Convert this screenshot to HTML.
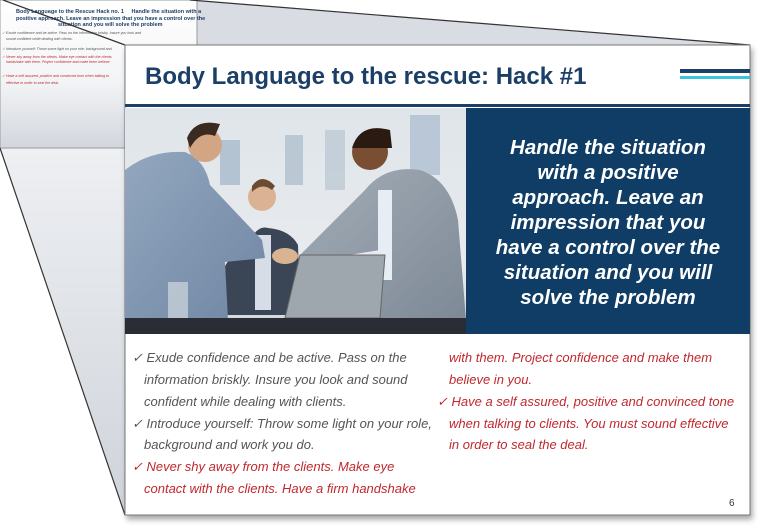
<!DOCTYPE html>
<html><head><meta charset="utf-8"><style>
html,body{margin:0;padding:0;background:#fff;}
svg{display:block;font-family:"Liberation Sans",Arial,sans-serif;}
</style></head><body>
<svg width="763" height="527" viewBox="0 0 763 527">
<defs>
<linearGradient id="gshade" x1="0" y1="0" x2="0" y2="1">
<stop offset="0" stop-color="#eef0f3"/><stop offset="1" stop-color="#cfd3da"/></linearGradient>
<linearGradient id="gthumb" x1="0" y1="0" x2="0" y2="1">
<stop offset="0" stop-color="#ffffff"/><stop offset="0.55" stop-color="#f3f4f6"/><stop offset="1" stop-color="#d2d6dd"/></linearGradient>
<linearGradient id="gphoto" x1="0" y1="0" x2="0" y2="1">
<stop offset="0" stop-color="#dfe5ea"/><stop offset="0.7" stop-color="#e8ebee"/><stop offset="1" stop-color="#cfd5db"/></linearGradient>
<linearGradient id="gsuit" x1="0" y1="0" x2="1" y2="1">
<stop offset="0" stop-color="#93a7bf"/><stop offset="1" stop-color="#6f86a3"/></linearGradient>
<linearGradient id="gsuit2" x1="0" y1="0" x2="1" y2="1">
<stop offset="0" stop-color="#a3adb8"/><stop offset="1" stop-color="#7d8995"/></linearGradient>
<filter id="sh" x="-5%" y="-5%" width="110%" height="115%"><feDropShadow dx="2" dy="4" stdDeviation="3" flood-color="#000" flood-opacity="0.35"/></filter>
</defs>
<!-- shaded connector region -->
<polygon points="0,148 125,515 125,148" fill="url(#gshade)"/>
<polygon points="197,0 750,45 197,45" fill="#d9dce2"/>
<!-- thumbnail slide -->
<g>
<rect x="0" y="0" width="197" height="148" fill="url(#gthumb)" stroke="#999" stroke-width="1"/>
<text x="16" y="13" font-size="5.5" font-weight="bold" fill="#1f3f66">Body Language to the Rescue Hack no. 1 &#160;&#160;&#160; Handle the situation with a</text>
<text x="16" y="20" font-size="5.5" font-weight="bold" fill="#1f3f66">positive approach. Leave an impression that you have a control over the</text>
<text x="58" y="26" font-size="5.5" font-weight="bold" fill="#1f3f66">situation and you will solve the problem</text>
<text x="2" y="34" font-size="3.6" font-style="italic" fill="#555">✓ Exude confidence and be active. Pass on the information briskly. Insure you look and</text>
<text x="6" y="40" font-size="3.6" font-style="italic" fill="#555">sound confident while dealing with clients.</text>
<text x="2" y="50" font-size="3.6" font-style="italic" fill="#555">✓ Introduce yourself: Throw some light on your role, background and</text>
<text x="2" y="58" font-size="3.6" font-style="italic" fill="#c0282d">✓ Never shy away from the clients. Make eye contact with the clients</text>
<text x="6" y="63" font-size="3.6" font-style="italic" fill="#c0282d">handshake with them. Project confidence and make them believe</text>
<text x="2" y="77" font-size="3.6" font-style="italic" fill="#c0282d">✓ Have a self assured, positive and convinced tone when talking to</text>
<text x="6" y="84" font-size="3.6" font-style="italic" fill="#c0282d">effective in order to seal the deal.</text>
</g>
<!-- connector lines -->
<line x1="3" y1="0" x2="125" y2="45" stroke="#333" stroke-width="1.2"/>
<line x1="0" y1="148" x2="125" y2="515" stroke="#333" stroke-width="1.2"/>
<line x1="190" y1="0" x2="750" y2="45" stroke="#333" stroke-width="1.2"/>
<!-- main slide -->
<g>
<rect x="125" y="45" width="625" height="470" fill="#fff" stroke="#777" stroke-width="1" filter="url(#sh)"/>
<text x="145" y="84" font-size="24" font-weight="bold" fill="#1b3f66">Body Language to the rescue: Hack #1</text>
<rect x="680" y="69" width="70" height="4" fill="#1b3f66"/>
<rect x="680" y="76" width="70" height="3" fill="#3ec3dc"/>
<rect x="125" y="104" width="625" height="3" fill="#1b3f66"/>
<g>
<rect x="125" y="108" width="341" height="226" fill="url(#gphoto)"/>
<rect x="220" y="140" width="20" height="45" fill="#9fb3c8" opacity="0.7"/>
<rect x="285" y="135" width="18" height="50" fill="#a9bacb" opacity="0.7"/>
<rect x="325" y="130" width="20" height="60" fill="#b0bfcd" opacity="0.6"/>
<rect x="410" y="115" width="30" height="60" fill="#9fb3c8" opacity="0.6"/>
<path d="M250 240 Q258 225 268 228 Q290 230 298 245 L300 315 L215 315 Q215 260 250 240 Z" fill="#3a4556"/>
<rect x="255" y="235" width="16" height="75" fill="#d7dde6"/>
<circle cx="262" cy="197" r="14" fill="#dbb293"/>
<path d="M252 186 Q262 172 275 186 L272 190 Q262 182 252 192 Z" fill="#6b4a32"/>
<path d="M125 170 Q150 150 185 152 Q205 160 210 185 L262 240 L265 258 L225 262 L228 320 L125 320 Z" fill="url(#gsuit)"/>
<circle cx="205" cy="145" r="17" fill="#d2a585"/>
<path d="M187 138 Q195 118 220 124 L215 136 Q200 130 190 148 Z" fill="#3a2a20"/>
<path d="M300 255 Q330 225 365 190 Q385 165 420 170 Q450 180 458 220 L466 320 L370 320 L380 250 L305 262 Z" fill="url(#gsuit2)"/>
<rect x="378" y="190" width="14" height="90" fill="#e6edf5"/>
<circle cx="370" cy="152" r="18" fill="#7a4e33"/>
<path d="M352 148 Q360 122 390 130 L392 148 Z" fill="#2a1a12"/>
<ellipse cx="285" cy="256" rx="13" ry="8" fill="#d9b392"/>
<polygon points="300,255 385,255 380,318 285,318" fill="#9ea6ae" stroke="#666"/>
<rect x="168" y="282" width="20" height="36" fill="#c7d0d8" opacity="0.8"/>
<rect x="125" y="318" width="341" height="16" fill="#2a2d33"/>
</g>
<rect x="466" y="108" width="284" height="226" fill="#0f3d66"/>
<g font-size="20.5" font-weight="bold" font-style="italic" fill="#fff" text-anchor="middle">
<text x="608" y="154">Handle the situation</text>
<text x="608" y="179">with a positive</text>
<text x="608" y="204">approach. Leave an</text>
<text x="608" y="229">impression that you</text>
<text x="608" y="254">have a control over the</text>
<text x="608" y="279">situation and you will</text>
<text x="608" y="304">solve the problem</text>
</g>
<g font-size="13" font-style="italic">
<text x="132" y="362" fill="#555">✓ Exude confidence and be active. Pass on the</text>
<text x="144" y="384" fill="#555">information briskly. Insure you look and sound</text>
<text x="144" y="406" fill="#555">confident while dealing with clients.</text>
<text x="132" y="428" fill="#555">✓ Introduce yourself: Throw some light on your role,</text>
<text x="144" y="449" fill="#555">background and work you do.</text>
<text x="132" y="471" fill="#c0282d">✓ Never shy away from the clients. Make eye</text>
<text x="144" y="493" fill="#c0282d">contact with the clients. Have a firm handshake</text>
<text x="449" y="362" fill="#c0282d">with them. Project confidence and make them</text>
<text x="449" y="384" fill="#c0282d">believe in you.</text>
<text x="437" y="406" fill="#c0282d">✓  Have a self assured, positive and convinced tone</text>
<text x="449" y="428" fill="#c0282d">when talking to clients. You must sound effective</text>
<text x="449" y="449" fill="#c0282d">in order to seal the deal.</text>
</g>
<text x="729" y="506" font-size="10" fill="#333">6</text>
</g>
</svg>
</body></html>
